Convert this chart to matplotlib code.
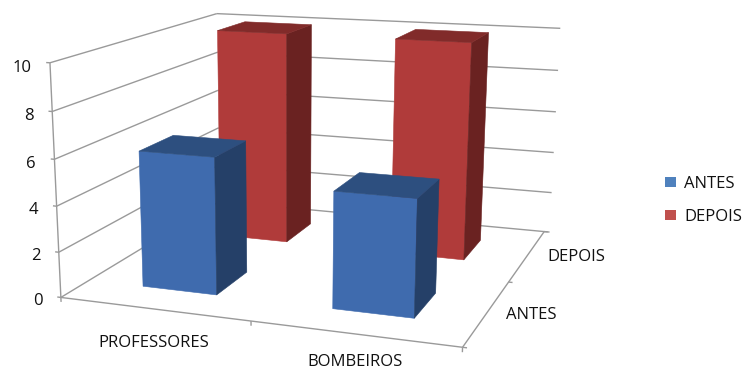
import matplotlib
matplotlib.use("Agg")
import matplotlib.pyplot as plt
from matplotlib.patches import Polygon, Rectangle
import numpy as np

categories = ["PROFESSORES", "BOMBEIROS"]
series_names = ["ANTES", "DEPOIS"]
antes = [6, 5]
depois = [10, 10]
value_ticks = [0, 2, 4, 6, 8, 10]

FRONT = {"ANTES": "#3f6bae", "DEPOIS": "#b03b3a"}
SIDE = {"ANTES": "#254068", "DEPOIS": "#6a2221"}
TOP = {"ANTES": "#2d4f7f", "DEPOIS": "#812b2a"}
LEGEND = {"ANTES": "#4f81bd", "DEPOIS": "#c0504d"}
GRID = "#9a9a9a"
BAR_SIZE = 0.4
LABEL_SIZE = 12

plt.rcParams["font.family"] = ["Open Sans", "DejaVu Sans"]

# camera for the 3D box: (category, series, value) -> canvas pixels
box_points = [
    (0, 0, 0), (1, 0, 0), (2, 0, 0), (2, 1, 0), (2, 2, 0), (0, 2, 0),
    (0, 0, 10), (0, 2, 10), (2, 2, 10), (0, 0, 6), (2, 2, 6),
]
canvas_points = [
    (62, 297), (250, 322), (462, 348), (510, 280), (544, 232), (219, 202),
    (50, 63), (217, 13), (555, 29), (54, 159), (550, 111),
]


def fit_camera(world, image):
    rows, rhs = [], []
    for (x, y, z), (u, v) in zip(world, image):
        rows.append([x, y, z, 1, 0, 0, 0, 0, -u * x, -u * y, -u * z])
        rows.append([0, 0, 0, 0, x, y, z, 1, -v * x, -v * y, -v * z])
        rhs += [u, v]
    p = np.linalg.lstsq(np.array(rows, float), np.array(rhs, float), rcond=None)[0]
    return np.append(p, 1).reshape(3, 4)


CAMERA = fit_camera(box_points, canvas_points)


def project(x, y, z):
    u, v, w = CAMERA @ np.array([x, y, z, 1.0])
    return u / w, v / w


def line3d(ax, a, b, lw=1.0, zorder=1):
    pa, pb = project(*a), project(*b)
    ax.plot([pa[0], pb[0]], [pa[1], pb[1]], color=GRID, lw=lw, zorder=zorder,
            solid_capstyle="butt")


def bar3d(ax, i, j, value, name, zorder):
    x0 = i + (1 - BAR_SIZE) / 2
    x1 = x0 + BAR_SIZE
    y0 = j + (1 - BAR_SIZE) / 2
    y1 = y0 + BAR_SIZE
    faces = [
        ([(x0, y0, 0), (x1, y0, 0), (x1, y0, value), (x0, y0, value)], FRONT[name]),
        ([(x1, y0, 0), (x1, y1, 0), (x1, y1, value), (x1, y0, value)], SIDE[name]),
        ([(x0, y0, value), (x1, y0, value), (x1, y1, value), (x0, y1, value)], TOP[name]),
    ]
    for corners, color in faces:
        ax.add_patch(Polygon([project(*c) for c in corners], closed=True,
                             facecolor=color, edgecolor=color, lw=0.4, zorder=zorder))


fig = plt.figure(figsize=(7.44, 3.71), dpi=100)
ax = fig.add_axes([0, 0, 1, 1])
ax.set_xlim(0, 744)
ax.set_ylim(371, 0)
ax.axis("off")

# walls
for v in value_ticks:
    line3d(ax, (0, 0, v), (0, 2, v))
    line3d(ax, (0, 2, v), (2.03, 2, v))
    line3d(ax, (0, 0, v), (-0.02, 0, v))
    px, py = project(-0.1, 0, v)
    ax.text(px, py + 6, str(v), ha="right", va="center", fontsize=LABEL_SIZE, color="#111111")
line3d(ax, (0, 0, 0), (0, 0, 10))

# floor edges and ticks
line3d(ax, (0, 0, 0), (2, 0, 0))
line3d(ax, (2, 0, 0), (2, 2, 0))
for i in range(3):
    line3d(ax, (i, 0, 0), (i, 0, -0.2))
for j in range(3):
    line3d(ax, (2, j, 0), (2.02, j, 0))

# back row first so the front row covers it
for i, value in enumerate(depois):
    bar3d(ax, i, 1, value, "DEPOIS", 3)
for i, value in enumerate(antes):
    bar3d(ax, i, 0, value, "ANTES", 4)

# axis labels
ax.text(154, 343, categories[0], ha="center", va="center", fontsize=LABEL_SIZE, color="#111111")
ax.text(355, 362, categories[1], ha="center", va="center", fontsize=LABEL_SIZE, color="#111111")
ax.text(531, 315, series_names[0], ha="center", va="center", fontsize=LABEL_SIZE, color="#111111")
ax.text(576, 257, series_names[1], ha="center", va="center", fontsize=LABEL_SIZE, color="#111111")

# legend
for name, y in zip(series_names, [182, 215]):
    ax.add_patch(Rectangle((665, y - 5), 11, 10, facecolor=LEGEND[name], edgecolor="none"))
    ax.text(684, y + 2, name, ha="left", va="center", fontsize=LABEL_SIZE, color="#111111")

fig.savefig("out.png", dpi=100)
